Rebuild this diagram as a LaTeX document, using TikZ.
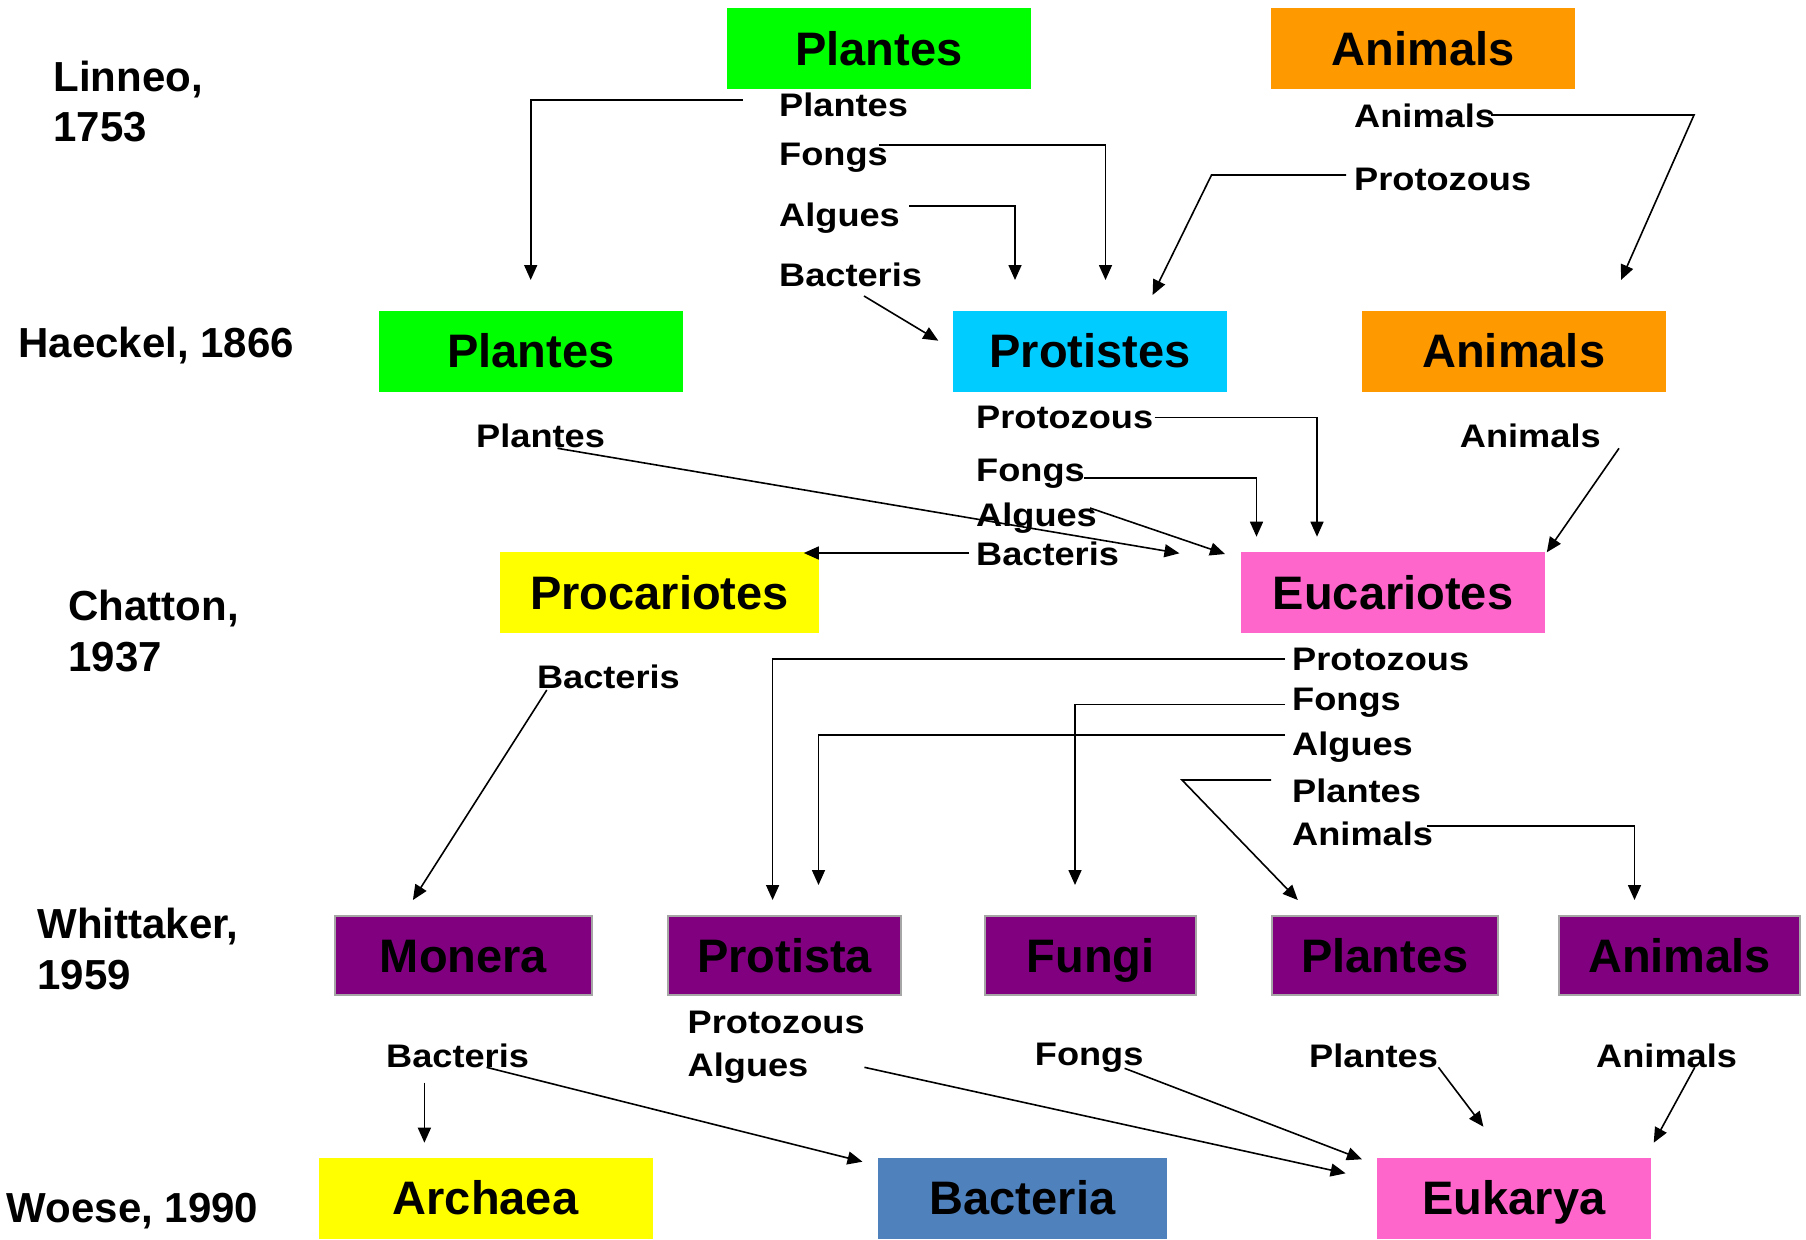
\documentclass[tikz,border=0pt]{standalone}
\usepackage{fontspec}
\setmainfont{Liberation Sans}
\newfontfamily\widefont{Liberation Sans}[FakeStretch=1.11]
\usepackage{xcolor}
\usepackage{tikz}
\usetikzlibrary{arrows.meta,positioning}

\definecolor{kgreen}{HTML}{00FF00}
\definecolor{korange}{HTML}{FF9900}
\definecolor{kcyan}{HTML}{00CCFF}
\definecolor{kyellow}{HTML}{FFFF00}
\definecolor{kpink}{HTML}{FF66CC}
\definecolor{kpurple}{HTML}{800080}
\definecolor{kblue}{HTML}{4F81BD}

\tikzset{
    box/.style={inner sep=0pt, minimum height=81pt, text height=33.6pt, text depth=0pt,
        font=\bfseries\fontsize{47}{56}\selectfont},
    pbox/.style={box, fill=kpurple, draw=gray!70, line width=1.5pt, minimum height=79pt},
    lab/.style={anchor=base west, inner sep=0pt, font=\widefont\bfseries\fontsize{32.6}{39}\selectfont},
    year/.style={anchor=base west, inner sep=0pt, font=\bfseries\fontsize{42}{50}\selectfont},
    arr/.style={-{Triangle[length=15pt,width=13pt]}, line width=1.6pt}
}

\begin{document}
\begin{tikzpicture}[x=1pt,y=1pt]
    \useasboundingbox (0,0) rectangle (1806,-1239);

    \node[year] (y1) at (53.3,-91.7) {Linneo,};
    \node[year] (y1b) at (53.3,-141.7) {1753};
    \node[year] (y2) at (18.3,-357.7) {Haeckel, 1866};
    \node[year] (y3) at (68.3,-620) {Chatton,};
    \node[year] (y3b) at (68.3,-671.4) {1937};
    \node[year] (y4) at (37.3,-938.4) {Whittaker,};
    \node[year] (y4b) at (37.3,-989) {1959};
    \node[year] (y5) at (6.7,-1222.7) {Woese, 1990};

    \node[box, fill=kgreen, minimum width=304pt] (P1) at (879,-48.5) {Plantes};
    \node[box, fill=korange, minimum width=304pt] (A1) at (1423,-48.5) {Animals};
    \node[box, fill=kgreen, minimum width=304pt] (P2) at (531,-351) {Plantes};
    \node[box, fill=kcyan, minimum width=274pt] (Pr2) at (1090,-351) {Protistes};
    \node[box, fill=korange, minimum width=304pt] (A2) at (1513.7,-351) {Animals};
    \node[box, fill=kyellow, minimum width=319pt] (Pc3) at (659.5,-592.5) {Procariotes};
    \node[box, fill=kpink, minimum width=304pt] (E3) at (1393,-592.5) {Eucariotes};
    \node[pbox, minimum width=257pt] (M4) at (463.5,-955.5) {Monera};
    \node[pbox, minimum width=233pt] (Pt4) at (784.5,-955.5) {Protista};
    \node[pbox, minimum width=211pt] (F4) at (1090.5,-955.5) {Fungi};
    \node[pbox, minimum width=226pt] (P4) at (1385,-955.5) {Plantes};
    \node[pbox, minimum width=241pt] (A4) at (1679.5,-955.5) {Animals};
    \node[box, fill=kyellow, minimum width=334pt] (Ar5) at (485.5,-1198) {Archaea};
    \node[box, fill=kblue, minimum width=289pt] (B5) at (1022.5,-1198) {Bacteria};
    \node[box, fill=kpink, minimum width=274pt] (E5) at (1514,-1198) {Eukarya};

    \node[lab] (p1) at (779,-116.7) {Plantes};
    \node[lab] (f1) at (779,-165) {Fongs};
    \node[lab] (g1) at (779,-226.7) {Algues};
    \node[lab] (b1) at (779,-286.7) {Bacteris};
    \node[lab] (a1) at (1354,-127) {Animals};
    \node[lab] (z1) at (1354,-190.5) {Protozous};

    \node[lab] (p2) at (476,-447.7) {Plantes};
    \node[lab] (z2) at (976,-428) {Protozous};
    \node[lab] (f2) at (976,-481.7) {Fongs};
    \node[lab] (g2) at (976,-526.7) {Algues};
    \node[lab] (b2) at (976,-565) {Bacteris};
    \node[lab] (a2) at (1459.7,-447.7) {Animals};

    \node[lab] (b3) at (536.8,-688.3) {Bacteris};
    \node[lab] (z3) at (1292,-670) {Protozous};
    \node[lab] (f3) at (1292,-710) {Fongs};
    \node[lab] (g3) at (1292,-755) {Algues};
    \node[lab] (p3) at (1292,-802.7) {Plantes};
    \node[lab] (a3) at (1292,-845) {Animals};

    \node[lab] (b4) at (386,-1067) {Bacteris};
    \node[lab] (z4) at (687.5,-1033.3) {Protozous};
    \node[lab] (g4) at (687.5,-1076.7) {Algues};
    \node[lab] (f4) at (1034.7,-1065) {Fongs};
    \node[lab] (p4) at (1309,-1067) {Plantes};
    \node[lab] (a4) at (1596,-1067) {Animals};

    \coordinate (toP2) at (530.7,-280);
    \coordinate (toPr2a) at (1015,-280);
    \coordinate (toPr2b) at (1105.5,-280);
    \coordinate (toPr2c) at (938.3,-340.7);
    \coordinate (toPr2d) at (1152.6,-295);
    \coordinate (toA2) at (1621,-280);
    \coordinate (toPc3) at (803.8,-553);
    \coordinate (toE3a) at (1179.4,-553.3);
    \coordinate (toE3b) at (1225,-554);
    \coordinate (toE3c) at (1256.5,-536.7);
    \coordinate (toE3d) at (1317,-536.7);
    \coordinate (toE3e) at (1546.8,-552.3);
    \coordinate (toM4) at (412.9,-900);
    \coordinate (toPt4a) at (772.6,-900);
    \coordinate (toPt4b) at (818.5,-885);
    \coordinate (toF4) at (1075,-885);
    \coordinate (toP4) at (1297.8,-900);
    \coordinate (toA4) at (1634.5,-900);
    \coordinate (toAr5) at (424.4,-1142.7);
    \coordinate (toB5) at (862.5,-1161.7);
    \coordinate (toE5a) at (1345.6,-1173.3);
    \coordinate (toE5b) at (1361.9,-1159.3);
    \coordinate (toE5c) at (1483.4,-1126.7);
    \coordinate (toE5d) at (1653.7,-1142.7);

    \draw[arr] ([shift={(-36.3,17)}]p1.base west) -| (toP2);
    \draw[arr] ([shift={(100,20)}]f1.base west) -| (toPr2b);
    \draw[arr] ([shift={(130,21)}]g1.base west) -| (toPr2a);
    \draw[arr] ([shift={(85,-9.3)}]b1.base west) -- (toPr2c);
    \draw[arr] ([shift={(137,12)}]a1.base west) -- ++(203,0) -- (toA2);
    \draw[arr] ([shift={(-8,15.5)}]z1.base west) -- ++(-134.5,0) -- (toPr2d);

    \draw[arr] ([shift={(81.5,-0.6)}]p2.base west) -- (toE3a);
    \draw[arr] ([shift={(178.6,10.7)}]z2.base west) -| (toE3d);
    \draw[arr] ([shift={(108,4)}]f2.base west) -| (toE3c);
    \draw[arr] ([shift={(114,18.7)}]g2.base west) -- (toE3b);
    \draw[arr] ([shift={(-7,12)}]b2.base west) -- (toPc3);
    \draw[arr] ([shift={(159.3,-0.6)}]a2.base west) -- (toE3e);

    \draw[arr] ([shift={(10,-1.7)}]b3.base west) -- (toM4);
    \draw[arr] ([shift={(-7,11)}]z3.base west) -| (toPt4a);
    \draw[arr] ([shift={(-7,5.7)}]f3.base west) -| (toF4);
    \draw[arr] ([shift={(-7,20)}]g3.base west) -| (toPt4b);
    \draw[arr] ([shift={(-21,22.7)}]p3.base west) -- ++(-89,0) -- (toP4);
    \draw[arr] ([shift={(135,19.3)}]a3.base west) -| (toA4);

    \draw[arr] ([shift={(38.4,-15.7)}]b4.base west) -- (toAr5);
    \draw[arr] ([shift={(100.5,-0.3)}]b4.base west) -- (toB5);
    \draw[arr] ([shift={(176.9,9.4)}]g4.base west) -- (toE5a);
    \draw[arr] ([shift={(89.9,-3.3)}]f4.base west) -- (toE5b);
    \draw[arr] ([shift={(129.4,-0.3)}]p4.base west) -- (toE5c);
    \draw[arr] ([shift={(98.8,-0.3)}]a4.base west) -- (toE5d);
\end{tikzpicture}
\end{document}
